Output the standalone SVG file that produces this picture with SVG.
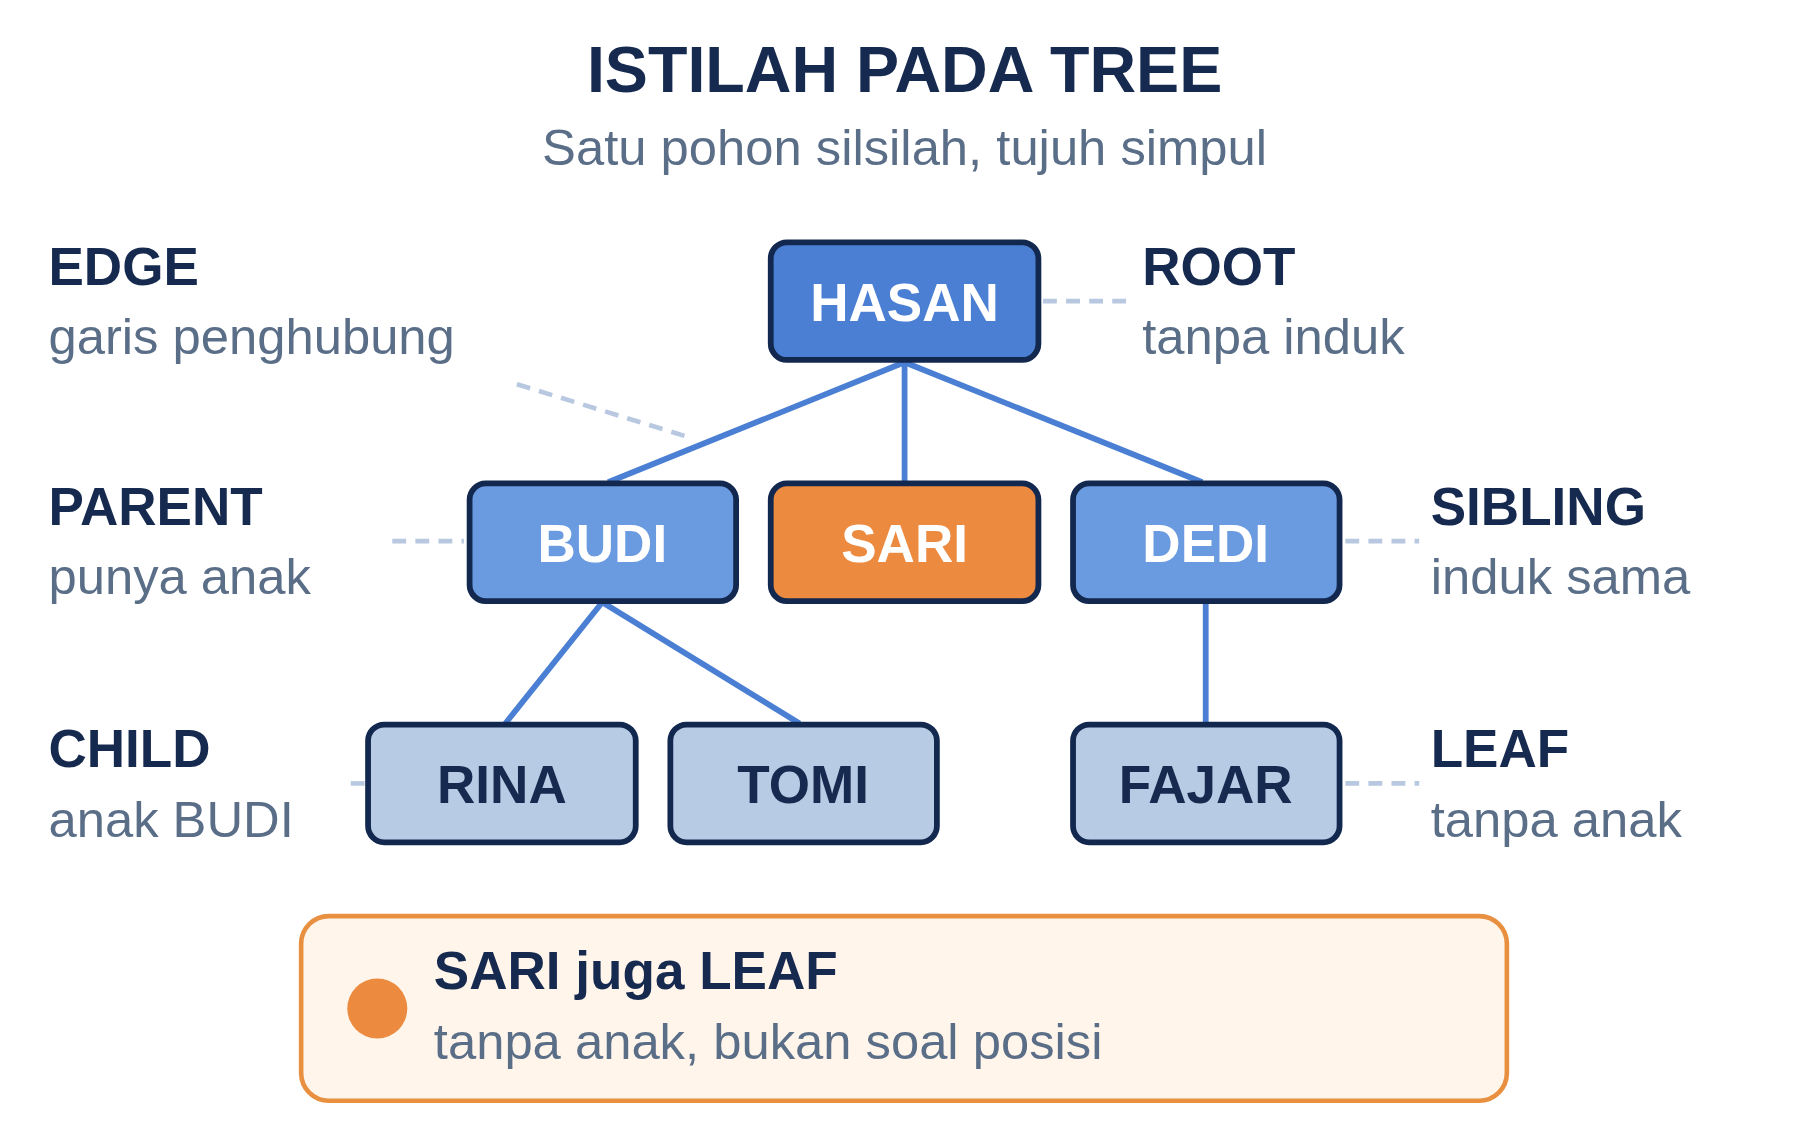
<svg xmlns="http://www.w3.org/2000/svg" width="1800" height="1140" viewBox="0 0 1800 1140">
<style>
text{font-family:"Liberation Sans",Arial,sans-serif}
.t{font-weight:bold;fill:#16294f;font-size:46px}
.s{fill:#5a6e88;font-size:44px}
.n{stroke:#13284f;stroke-width:5}
.nt{font-weight:bold;font-size:46px;text-anchor:middle}
.e{stroke:#4a7fd4;stroke-width:5;fill:none}
.d{stroke:#b8c8e0;stroke-width:4;stroke-dasharray:12 8;fill:none}
</style>
<rect width="1800" height="1140" fill="#fff"/>
<g transform="scale(1.1538)">
<text x="784" y="80" text-anchor="middle" style="font-weight:bold;font-size:56px;fill:#16294f">ISTILAH PADA TREE</text>
<text x="784" y="143" text-anchor="middle" class="s">Satu pohon silsilah, tujuh simpul</text>
<g id="connectors">
<line class="e" x1="784" y1="314" x2="527" y2="418"/>
<line class="e" x1="784" y1="314" x2="784" y2="418"/>
<line class="e" x1="784" y1="314" x2="1042" y2="418"/>
<line class="e" x1="522" y1="522" x2="438" y2="627"/>
<line class="e" x1="522" y1="522" x2="693" y2="627"/>
<line class="e" x1="1045" y1="522" x2="1045" y2="627"/>
<line class="d" x1="904" y1="261" x2="978" y2="261"/>
<line class="d" x1="448" y1="333" x2="594" y2="378"/>
<line class="d" x1="340" y1="469" x2="402" y2="469"/>
<line class="d" x1="1166" y1="469" x2="1230" y2="469"/>
<line class="d" x1="304" y1="679" x2="316" y2="679"/>
<line class="d" x1="1166" y1="679" x2="1230" y2="679"/>
</g>
<g id="hasan"><rect class="n" x="668" y="210" width="232" height="102" rx="14" fill="#4a7fd4"/><text class="nt" x="784" y="278" fill="#fff">HASAN</text></g>
<g id="budi"><rect class="n" x="407" y="419" width="231" height="102" rx="14" fill="#6a9ae0"/><text class="nt" x="522" y="487" fill="#fff">BUDI</text></g>
<g id="sari"><rect class="n" x="668" y="419" width="232" height="102" rx="14" fill="#ec8a40"/><text class="nt" x="784" y="487" fill="#fff">SARI</text></g>
<g id="dedi"><rect class="n" x="930" y="419" width="231" height="102" rx="14" fill="#6a9ae0"/><text class="nt" x="1045" y="487" fill="#fff">DEDI</text></g>
<g id="rina"><rect class="n" x="319" y="628" width="232" height="102" rx="14" fill="#b8cbe4"/><text class="nt" x="435" y="696" fill="#16294f">RINA</text></g>
<g id="tomi"><rect class="n" x="581" y="628" width="231" height="102" rx="14" fill="#b8cbe4"/><text class="nt" x="696" y="696" fill="#16294f">TOMI</text></g>
<g id="fajar"><rect class="n" x="930" y="628" width="231" height="102" rx="14" fill="#b8cbe4"/><text class="nt" x="1045" y="696" fill="#16294f">FAJAR</text></g>
<g id="labels">
<text class="t" x="42" y="247">EDGE</text><text class="s" x="42" y="307">garis penghubung</text>
<text class="t" x="42" y="455">PARENT</text><text class="s" x="42" y="515">punya anak</text>
<text class="t" x="42" y="665">CHILD</text><text class="s" x="42" y="725">anak BUDI</text>
<text class="t" x="990" y="247">ROOT</text><text class="s" x="990" y="307">tanpa induk</text>
<text class="t" x="1240" y="455">SIBLING</text><text class="s" x="1240" y="515">induk sama</text>
<text class="t" x="1240" y="665">LEAF</text><text class="s" x="1240" y="725">tanpa anak</text>
</g>
<g id="note">
<rect x="261" y="794" width="1045" height="160" rx="24" fill="#fff5ea" stroke="#e89040" stroke-width="4"/>
<circle cx="327" cy="874" r="26" fill="#ec8a40"/>
<text class="t" x="376" y="857">SARI juga LEAF</text>
<text class="s" x="376" y="918">tanpa anak, bukan soal posisi</text>
</g>
</g>
</svg>
